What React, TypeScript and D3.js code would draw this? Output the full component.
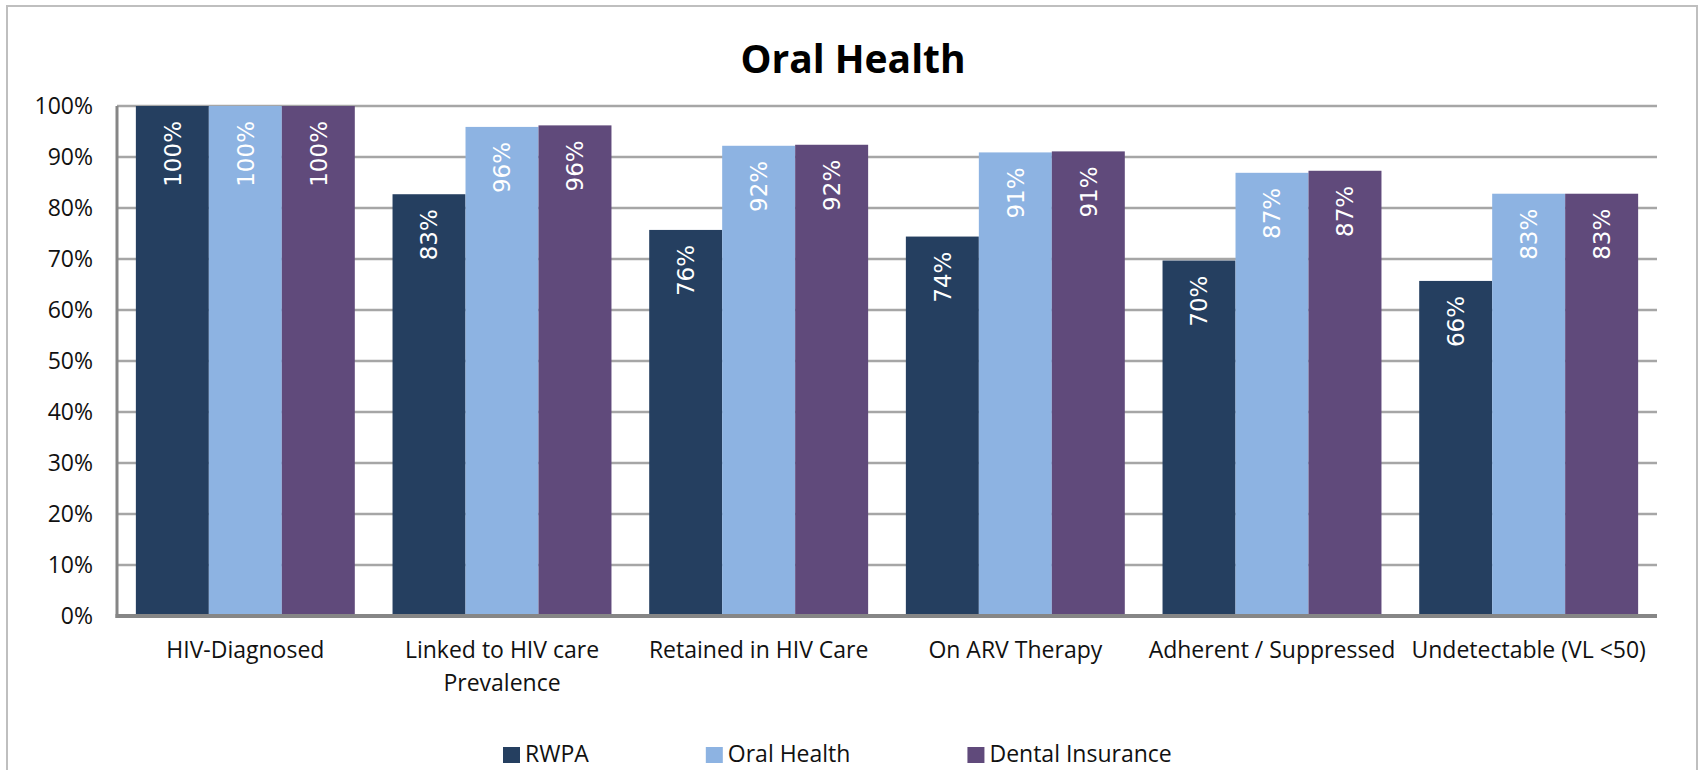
import React, { useEffect, useRef } from "react"
import * as d3 from "d3"

const categories = [
  "HIV-Diagnosed",
  "Linked to HIV care\nPrevalence",
  "Retained in HIV Care",
  "On ARV Therapy",
  "Adherent / Suppressed",
  "Undetectable (VL <50)",
]
const seriesNames = ["RWPA", "Oral Health", "Dental Insurance"]
const rwpa = [100, 82.7, 75.7, 74.4, 69.7, 65.7]
const oralHealth = [100, 95.9, 92.2, 90.9, 86.9, 82.8]
const dentalInsurance = [100, 96.2, 92.4, 91.1, 87.3, 82.8]
const yTicks = [0, 10, 20, 30, 40, 50, 60, 70, 80, 90, 100]
const colors = ["#253f60", "#8db3e2", "#604a7b"]

const W = 1700
const H = 770
const margin = { top: 106, right: 43, bottom: 154, left: 117 }
const sans = "'Open Sans', 'Noto Sans', sans-serif"

const App = () => {
  const ref = useRef<SVGSVGElement>(null)

  useEffect(() => {
    const seriesValues = [rwpa, oralHealth, dentalInsurance]
    const svg = d3.select(ref.current)
    svg.selectAll("*").remove()

    const x0 = d3
      .scaleBand()
      .domain(categories)
      .range([margin.left, W - margin.right])
      .paddingInner(0.147)
      .paddingOuter(0.0735)
    const x1 = d3.scaleBand().domain(seriesNames).range([0, x0.bandwidth()])
    const y = d3.scaleLinear().domain([0, 100]).range([H - margin.bottom, margin.top])

    // outer frame
    svg
      .append("rect")
      .attr("x", 7)
      .attr("y", 6)
      .attr("width", 1690)
      .attr("height", 820)
      .attr("fill", "#fff")
      .attr("stroke", "#bfbfbf")
      .attr("stroke-width", 2)

    svg
      .append("text")
      .attr("x", 853)
      .attr("y", 73)
      .attr("text-anchor", "middle")
      .attr("font-family", sans)
      .attr("font-weight", "bold")
      .attr("font-size", 39)
      .text("Oral Health")

    // gridlines
    svg
      .append("g")
      .selectAll("line")
      .data(yTicks.filter(t => t > 0))
      .join("line")
      .attr("x1", margin.left)
      .attr("x2", W - margin.right)
      .attr("y1", d => y(d))
      .attr("y2", d => y(d))
      .attr("stroke", "#a6a6a6")
      .attr("stroke-width", 2.5)

    svg
      .append("g")
      .selectAll("text")
      .data(yTicks)
      .join("text")
      .attr("x", 93)
      .attr("y", d => y(d))
      .attr("dy", "0.36em")
      .attr("text-anchor", "end")
      .attr("font-family", sans)
      .attr("font-size", 23)
      .attr("fill", "#111")
      .text(d => d + "%")

    // bars
    const groups = svg
      .append("g")
      .selectAll("g")
      .data(categories)
      .join("g")
      .attr("transform", d => `translate(${x0(d)},0)`)

    const barData = (ci: number) =>
      seriesNames.map((s, si) => ({ s, si, v: seriesValues[si][ci] }))

    groups
      .selectAll("rect")
      .data((_, ci) => barData(ci))
      .join("rect")
      .attr("x", d => x1(d.s)!)
      .attr("width", x1.bandwidth())
      .attr("y", d => y(d.v))
      .attr("height", d => y(0) - y(d.v))
      .attr("fill", d => colors[d.si])

    groups
      .selectAll("text")
      .data((_, ci) => barData(ci))
      .join("text")
      .attr("transform", d => `translate(${x1(d.s)! + x1.bandwidth() / 2},${y(d.v) + 15}) rotate(-90)`)
      .attr("text-anchor", "end")
      .attr("dy", "0.36em")
      .attr("font-family", "'DejaVu Sans', Verdana, sans-serif")
      .attr("font-size", 23)
      .attr("fill", "#fff")
      .text(d => Math.round(d.v) + "%")

    // axes
    svg
      .append("line")
      .attr("x1", margin.left)
      .attr("x2", margin.left)
      .attr("y1", y(100))
      .attr("y2", y(0) + 2)
      .attr("stroke", "#868686")
      .attr("stroke-width", 3)
    svg
      .append("line")
      .attr("x1", margin.left - 1.5)
      .attr("x2", W - margin.right)
      .attr("y1", y(0))
      .attr("y2", y(0))
      .attr("stroke", "#868686")
      .attr("stroke-width", 4)

    // category labels
    const cat = svg
      .append("g")
      .selectAll("text")
      .data(categories)
      .join("text")
      .attr("x", d => x0(d)! + x0.bandwidth() / 2)
      .attr("y", 658)
      .attr("text-anchor", "middle")
      .attr("font-family", sans)
      .attr("font-size", 23)
      .attr("fill", "#111")
    cat
      .selectAll("tspan")
      .data(d => d.split("\n").map(line => ({ line, x: x0(d)! + x0.bandwidth() / 2 })))
      .join("tspan")
      .attr("x", d => d.x)
      .attr("dy", (_, i) => (i === 0 ? 0 : 33))
      .text(d => d.line)

    // legend
    let lx = 503
    seriesNames.forEach((name, i) => {
      svg
        .append("rect")
        .attr("x", lx)
        .attr("y", 747)
        .attr("width", 17)
        .attr("height", 16)
        .attr("fill", colors[i])
      const t = svg
        .append("text")
        .attr("x", lx + 22)
        .attr("y", 762)
        .attr("font-family", sans)
        .attr("font-size", 23)
        .attr("fill", "#111")
        .text(name)
      const len = (t.node() as SVGTextElement).getComputedTextLength()
      lx = lx + 22 + len + 117
    })
  }, [])

  return (
    <svg
      ref={ref}
      width={W}
      height={H}
      style={{ position: "absolute", left: 0, top: 0, background: "#fff" }}
    />
  )
}

export default App
